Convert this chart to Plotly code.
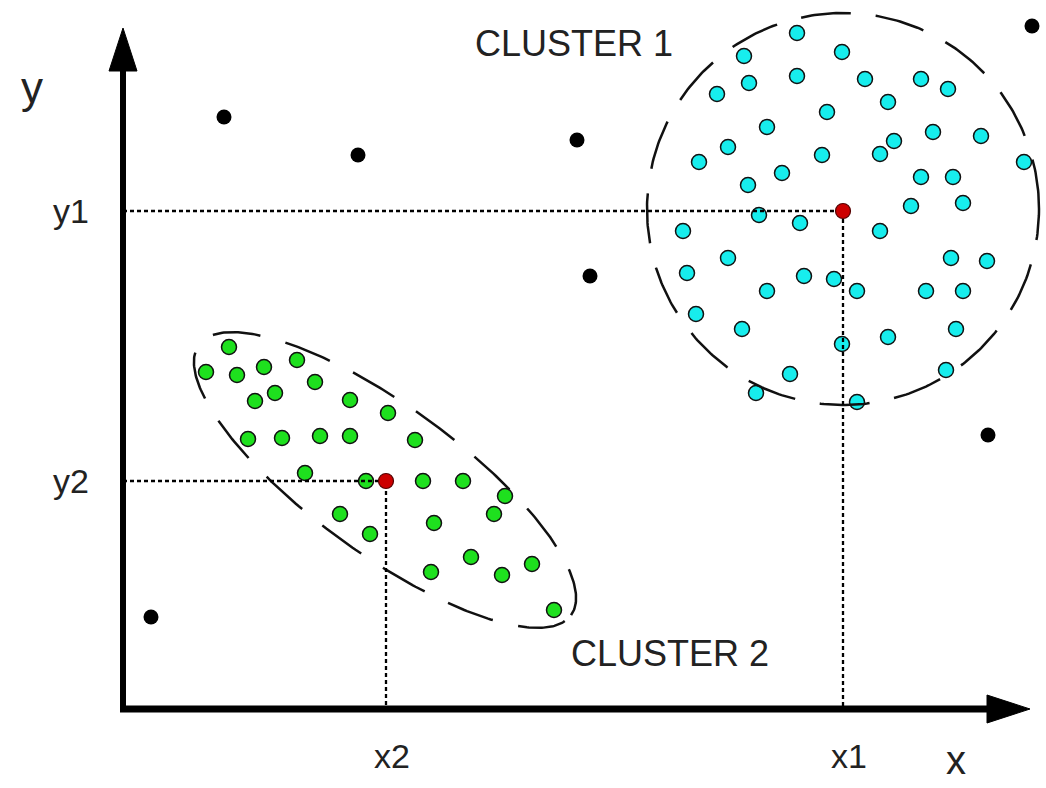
import numpy as np
import plotly.graph_objects as go

# ---- data (units: origin at the axis corner, y upward) ----
cluster1_x = [674, 621, 719, 626, 674, 594, 742, 798, 825, 765, 704, 644, 605, 576, 699, 757, 771,
              810, 858, 901, 659, 625, 798, 830, 840, 788, 636, 677, 560, 757, 605, 828, 864, 564,
              681, 711, 644, 734, 803, 840, 573, 619, 719, 765, 833, 667, 823, 633, 734]
cluster1_y = [676, 653, 657, 626, 633, 615, 630, 630, 620, 607, 597, 582, 562, 547, 554, 555, 568,
              577, 573, 547, 536, 524, 532, 532, 506, 503, 494, 486, 478, 478, 451, 451, 448, 436,
              433, 430, 418, 418, 418, 418, 395, 380, 365, 372, 380, 335, 339, 316, 307]

cluster2_x = [106, 83, 114, 141, 174, 192, 152, 132, 227, 265, 292, 125, 159, 197, 227, 182, 243,
              300, 340, 382, 371, 217, 311, 247, 348, 308, 379, 409, 431]
cluster2_y = [362, 337, 334, 342, 349, 327, 316, 308, 309, 296, 269, 270, 271, 273, 273, 236, 228,
              228, 228, 213, 195, 195, 186, 175, 152, 137, 134, 145, 99]

outlier_x = [101, 235, 454, 467, 909, 865, 28]
outlier_y = [592, 554, 569, 433, 683, 274, 92]

centroid_x = [720, 263]          # x1, x2
centroid_y = [498, 228]          # y1, y2
centroid_labels_x = ["x1", "x2"]
centroid_labels_y = ["y1", "y2"]
cluster_names = ["CLUSTER 1", "CLUSTER 2"]

# outline geometry
circle1_center = (720, 500)
circle1_radius = 196
ellipse2_center = (262, 229)
ellipse2_axes = (230, 74)
ellipse2_angle_deg = -36

X_END = 907   # x-arrow tip
Y_END = 681   # y-arrow tip
HEAD_LEN = 43
HEAD_HALF = 14

FONT = "Liberation Sans, Arial, sans-serif"
TXT = "#222222"

fig = go.Figure()

fig.add_trace(go.Scatter(x=cluster1_x, y=cluster1_y, mode="markers",
                         marker=dict(size=15, color="#17EDED", line=dict(color="#111", width=1.5)),
                         showlegend=False, hoverinfo="skip"))
fig.add_trace(go.Scatter(x=cluster2_x, y=cluster2_y, mode="markers",
                         marker=dict(size=15, color="#1EE01E", line=dict(color="#111", width=1.5)),
                         showlegend=False, hoverinfo="skip"))
fig.add_trace(go.Scatter(x=outlier_x, y=outlier_y, mode="markers",
                         marker=dict(size=15, color="black"),
                         showlegend=False, hoverinfo="skip"))

# dashed cluster outlines
t = np.linspace(0, 2 * np.pi, 400)
cx, cy = circle1_center
fig.add_trace(go.Scatter(x=cx + circle1_radius * np.cos(t), y=cy + circle1_radius * np.sin(t),
                         mode="lines", line=dict(color="#111", width=2.5, dash="50px,25px"),
                         showlegend=False, hoverinfo="skip"))
ex, ey = ellipse2_center
ea, eb = ellipse2_axes
th = np.deg2rad(ellipse2_angle_deg)
u = ea * np.cos(t)
v = eb * np.sin(t)
fig.add_trace(go.Scatter(x=ex + u * np.cos(th) - v * np.sin(th),
                         y=ey + u * np.sin(th) + v * np.cos(th),
                         mode="lines", line=dict(color="#111", width=2.5, dash="48px,26px"),
                         showlegend=False, hoverinfo="skip"))

# dotted projection lines
for gx, gy in zip(centroid_x, centroid_y):
    fig.add_trace(go.Scatter(x=[0, gx, gx], y=[gy, gy, 0], mode="lines",
                             line=dict(color="black", width=2.3, dash="4px,3px"),
                             showlegend=False, hoverinfo="skip"))

fig.add_trace(go.Scatter(x=centroid_x, y=centroid_y, mode="markers",
                         marker=dict(size=15, color="#CC0000", line=dict(color="#550000", width=1.2)),
                         showlegend=False, hoverinfo="skip"))

# axes arrows
shapes = [
    dict(type="line", x0=-3, y0=0, x1=X_END - HEAD_LEN, y1=0, line=dict(color="black", width=7)),
    dict(type="line", x0=0, y0=-3, x1=0, y1=Y_END - HEAD_LEN, line=dict(color="black", width=6)),
    dict(type="path",
         path=f"M {X_END} 0 L {X_END-HEAD_LEN} {HEAD_HALF} L {X_END-HEAD_LEN} {-HEAD_HALF} Z",
         fillcolor="black", line=dict(color="black", width=1)),
    dict(type="path",
         path=f"M 0 {Y_END} L {-HEAD_HALF} {Y_END-HEAD_LEN} L {HEAD_HALF} {Y_END-HEAD_LEN} Z",
         fillcolor="black", line=dict(color="black", width=1)),
]

annotations = []
for gx, lab in zip(centroid_x, centroid_labels_x):
    annotations.append(dict(x=gx + 6, y=-47, text=lab, showarrow=False,
                            font=dict(family=FONT, size=34, color=TXT)))
for gy, lab in zip(centroid_y, centroid_labels_y):
    annotations.append(dict(x=-52, y=gy, text=lab, showarrow=False,
                            font=dict(family=FONT, size=34, color=TXT)))
annotations.append(dict(x=833, y=-51, text="x", showarrow=False,
                        font=dict(family=FONT, size=40, color=TXT)))
annotations.append(dict(x=-91, y=622, text="y", showarrow=False,
                        font=dict(family=FONT, size=44, color=TXT)))
annotations.append(dict(x=451, y=666, text=cluster_names[0], showarrow=False,
                        font=dict(family=FONT, size=36, color=TXT)))
annotations.append(dict(x=547, y=56, text=cluster_names[1], showarrow=False,
                        font=dict(family=FONT, size=36, color=TXT)))

fig.update_layout(
    width=1046, height=788,
    margin=dict(l=0, r=0, t=0, b=0),
    paper_bgcolor="white", plot_bgcolor="white",
    xaxis=dict(range=[-123, 923], visible=False, fixedrange=True),
    yaxis=dict(range=[-79, 709], visible=False, fixedrange=True),
    shapes=shapes,
    annotations=annotations,
)

fig.write_html("out.html", config={"displayModeBar": False},
               post_script="document.body.style.margin='0';document.body.style.overflow='hidden';")
